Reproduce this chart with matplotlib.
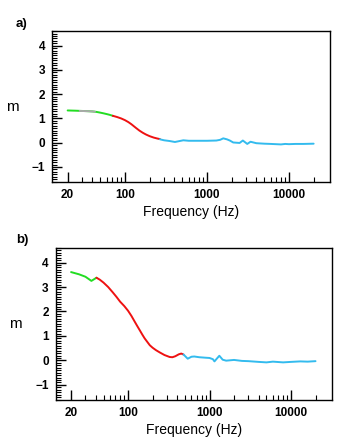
import matplotlib
matplotlib.use("Agg")
from matplotlib import pyplot as plt
from matplotlib.ticker import FixedLocator, MultipleLocator, NullFormatter

plt.rcParams['font.family'] = ['Liberation Sans', 'DejaVu Sans']

# panel a) segments
a_green_f = [20, 25, 30, 35, 40, 45, 50, 55, 60, 65, 71]
a_green_m = [1.33, 1.32, 1.31, 1.30, 1.29, 1.27, 1.24, 1.21, 1.18, 1.15, 1.11]
a_gray_f = [28, 32, 36, 40, 43]
a_gray_m = [1.31, 1.305, 1.30, 1.29, 1.28]
a_red_f = [71, 80, 90, 100, 110, 120, 135, 150, 165, 180, 200, 225, 250, 267]
a_red_m = [1.11, 1.06, 1.00, 0.93, 0.85, 0.76, 0.62, 0.50, 0.41, 0.34, 0.27, 0.21, 0.17, 0.15]
a_cyan_f = [267, 300, 350, 407, 450, 515, 600, 800, 1000, 1300, 1450, 1580, 1750,
            1900, 2090, 2500, 2740, 3100, 3400, 4000, 5000, 6000, 8000, 9000,
            10000, 12000, 15000, 20000]
a_cyan_m = [0.14, 0.10, 0.07, 0.03, 0.06, 0.10, 0.08, 0.08, 0.08, 0.09, 0.12, 0.18, 0.14,
            0.09, 0.01, -0.01, 0.09, -0.05, 0.04, -0.02, -0.04, -0.05, -0.07, -0.05,
            -0.06, -0.05, -0.05, -0.04]

# panel b) segments
b_green_f = [20, 25, 30, 35.5, 41]
b_green_m = [3.61, 3.52, 3.42, 3.25, 3.38]
b_red_f = [41, 45, 50, 57, 65, 72, 80, 90, 100, 110, 120, 130, 140, 150, 160, 172, 185,
           200, 220, 244, 280, 324, 350, 380, 420, 450, 480]
b_red_m = [3.38, 3.30, 3.18, 3.00, 2.78, 2.60, 2.40, 2.22, 2.03, 1.82, 1.60, 1.40, 1.22,
           1.05, 0.90, 0.76, 0.62, 0.52, 0.42, 0.33, 0.22, 0.14, 0.13, 0.17, 0.25, 0.28, 0.24]
b_cyan_f = [480, 540, 600, 650, 750, 900, 1000, 1100, 1150, 1250, 1320, 1450, 1600,
            2000, 2500, 3000, 4000, 5000, 6000, 8000, 10000, 13000, 16000, 20000]
b_cyan_m = [0.24, 0.07, 0.15, 0.16, 0.13, 0.11, 0.10, 0.05, -0.04, 0.10, 0.19, 0.03,
            -0.01, 0.02, -0.02, -0.03, -0.06, -0.08, -0.05, -0.08, -0.06, -0.04, -0.05, -0.03]

xtick_vals = [20, 100, 1000, 10000]
xtick_labels = ["20", "100", "1000", "10000"]
ytick_vals = [-1, 0, 1, 2, 3, 4]

GREEN = '#22dd22'
RED = '#ee1111'
CYAN = '#33bbee'
GRAY = '#aaaaaa'

fig = plt.figure(figsize=(3.54, 4.45), dpi=100)
ax_a = fig.add_axes([0.147, 0.591, 0.785, 0.339])
ax_b = fig.add_axes([0.157, 0.101, 0.780, 0.342])

segs_a = [(a_green_f, a_green_m, GREEN), (a_gray_f, a_gray_m, GRAY),
          (a_red_f, a_red_m, RED), (a_cyan_f, a_cyan_m, CYAN)]
segs_b = [(b_green_f, b_green_m, GREEN), (b_red_f, b_red_m, RED),
          (b_cyan_f, b_cyan_m, CYAN)]

minor_x = [v * d for d in [10, 100, 1000, 10000] for v in range(2, 10)]
minor_x = [v for v in minor_x if v <= 20000]

for ax, segs, tag in [(ax_a, segs_a, "a)"), (ax_b, segs_b, "b)")]:
    for f, m, c in segs:
        ax.plot(f, m, color=c, lw=1.4, solid_capstyle='round')
    ax.set_xscale('log')
    ax.set_xlim(12.9, 31600)
    ax.set_ylim(-1.62, 4.6)
    ax.xaxis.set_major_locator(FixedLocator(xtick_vals))
    ax.set_xticklabels(xtick_labels)
    ax.xaxis.set_minor_locator(FixedLocator(minor_x))
    ax.xaxis.set_minor_formatter(NullFormatter())
    ax.set_yticks(ytick_vals)
    ax.set_yticklabels(["\u22121", "0", "1", "2", "3", "4"])
    ax.yaxis.set_minor_locator(MultipleLocator(0.1))
    ax.tick_params(which='major', direction='in', length=7, width=1.0,
                   labelsize=8.5, top=False, right=False, pad=5)
    ax.tick_params(which='minor', direction='in', length=3.5, width=0.8,
                   top=False, right=False)
    for lab in ax.get_xticklabels() + ax.get_yticklabels():
        lab.set_fontweight('bold')
    for s in ax.spines.values():
        s.set_linewidth(1.0)
    ax.set_xlabel("Frequency (Hz)", fontsize=10, labelpad=3)
    ax.set_ylabel("m", fontsize=11, rotation=0, labelpad=14, va='center')
    pos = ax.get_position()
    fig.text(0.045, pos.y1 + 0.01, tag, fontsize=9.5, fontweight='bold')

fig.savefig("out.png", dpi=100)
